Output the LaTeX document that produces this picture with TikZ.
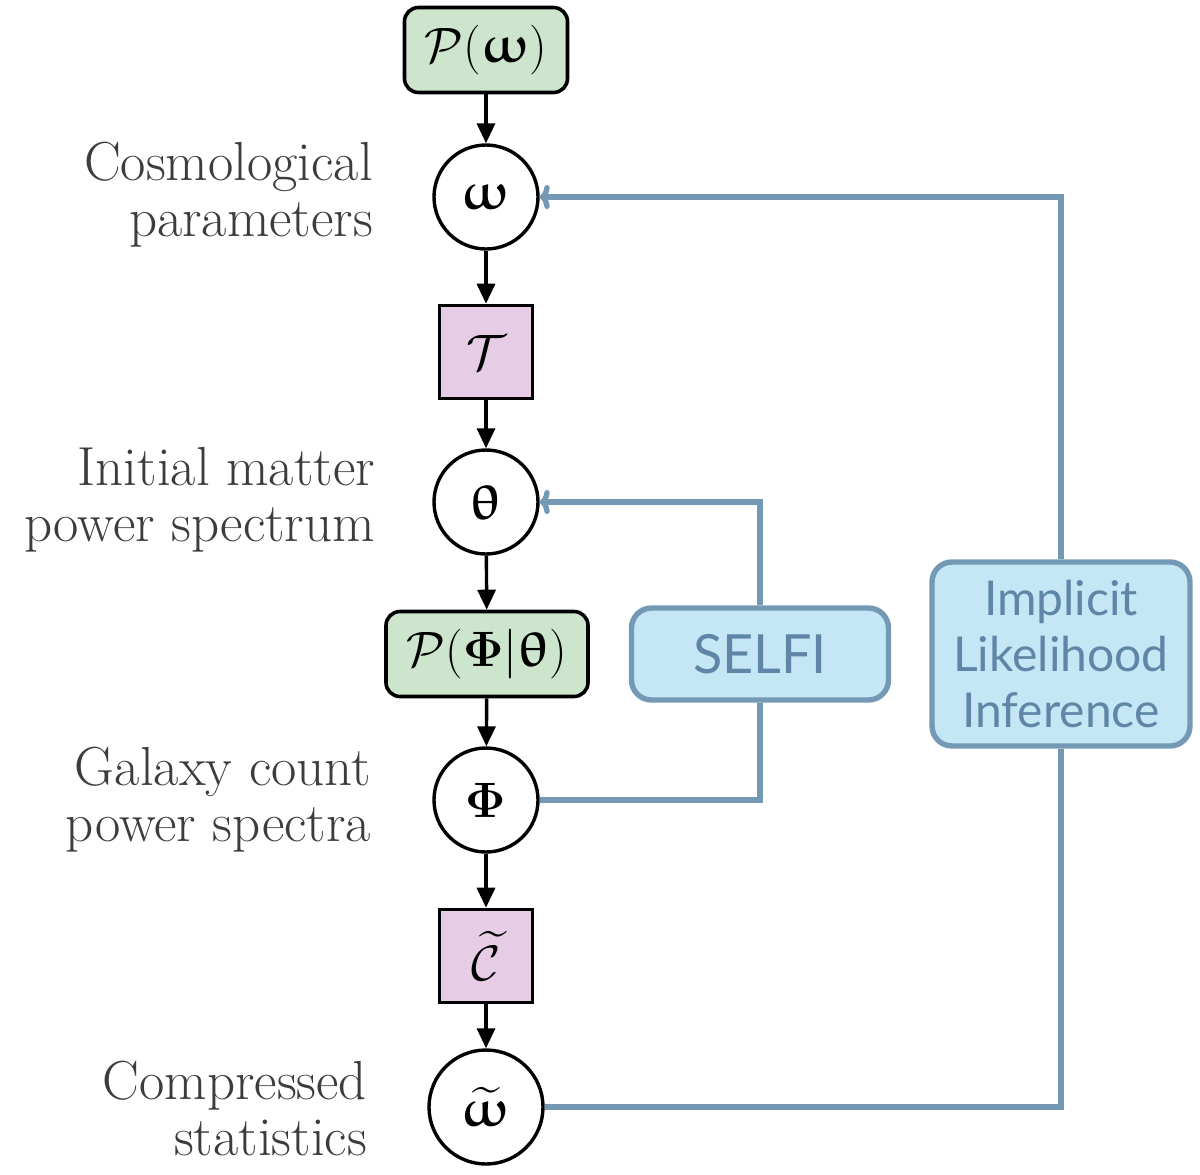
\documentclass[tikz,border=0pt]{standalone}
\usepackage{amsmath,amssymb,bm}
\usepackage{upgreek}
\usepackage{fontspec}
\newfontfamily\boxfont{Lato}
\usetikzlibrary{arrows.meta,positioning}
\definecolor{boxgreen}{HTML}{CCE5CC}
\definecolor{boxpink}{HTML}{E6CCE5}
\definecolor{boxblue}{HTML}{C5E6F5}
\definecolor{lineblue}{HTML}{7399B5}
\definecolor{textblue}{HTML}{5F86A6}
\definecolor{labelgray}{HTML}{3C3C3C}
\tikzset{
  varnode/.style={circle, draw=black, line width=1.7pt, fill=white, minimum size=52pt, inner sep=0pt, font=\fontsize{25}{28}\selectfont},
  distbox/.style={rounded corners=7pt, draw=black, line width=1.8pt, fill=boxgreen, minimum height=42.5pt, inner sep=2pt, font=\fontsize{25}{28}\selectfont},
  funcbox/.style={draw=black, line width=1.8pt, fill=boxpink, minimum size=46.5pt, inner sep=0pt, font=\fontsize{25}{28}\selectfont},
  methbox/.style={rounded corners=10pt, draw=lineblue, line width=2.7pt, fill=boxblue, text=textblue, align=center, font=\boxfont\fontsize{24}{28}\selectfont},
  lbl/.style={anchor=east, align=right, text=labelgray, font=\fontsize{27.5}{28}\selectfont},
  blk/.style={line width=1.7pt, -{Triangle[length=10pt,width=9pt]}},
  blu/.style={line width=2.7pt, lineblue, -{To[length=5pt,width=12pt]}},
  bluel/.style={line width=2.7pt, lineblue}
}
\begin{document}
\begin{tikzpicture}[x=0.5pt,y=-0.5pt]
\useasboundingbox (0,0) rectangle (1200,1174);
% main chain
\node[distbox, minimum width=81.5pt] (pw) at (486,50) {$\mathcal{P}(\bm{\upomega})$};
\node[varnode] (w) at (486,197) {$\bm{\upomega}$};
\node[funcbox] (T) at (486,352) {$\mathcal{T}$};
\node[varnode] (th) at (486,502) {$\bm{\uptheta}$};
\node[distbox, minimum width=101pt] (pft) at (487,654) {$\mathcal{P}(\bm{\Phi}|\bm{\uptheta})$};
\node[varnode] (F) at (486,800) {$\bm{\Phi}$};
\node[funcbox] (C) at (486,956) {$\widetilde{\mathcal{C}}$};
\node[varnode, minimum size=57pt] (wt) at (486,1107) {$\widetilde{\bm{\upomega}}$};
% labels
\node[lbl] (l1) at (380,195) {Cosmological\\parameters};
\node[lbl] (l2) at (382,500) {Initial matter\\power spectrum};
\node[lbl] (l3) at (378,800) {Galaxy count\\power spectra};
\node[lbl] (l4) at (374,1108) {Compressed\\statistics};
% method boxes
\node[methbox, minimum width=128.5pt, minimum height=46pt] (selfi) at (760,654) {\fontsize{27}{30}\selectfont SELFI};
\node[methbox, minimum width=129pt, minimum height=92pt] (ili) at (1061,654) {Implicit\\Likelihood\\Inference};
% black arrows
\draw[blk] (pw) -- (w);
\draw[blk] (w) -- (T);
\draw[blk] (T) -- (th);
\draw[blk] (th) -- (pft);
\draw[blk] (pft) -- (F);
\draw[blk] (F) -- (C);
\draw[blk] (C) -- (wt);
% blue connections
\draw[blu] (selfi.north) |- (th.east);
\draw[bluel] (F.east) -| (selfi.south);
\draw[blu] (ili.north) |- (w.east);
\draw[bluel] (wt.east) -| (ili.south);
\end{tikzpicture}
\end{document}
